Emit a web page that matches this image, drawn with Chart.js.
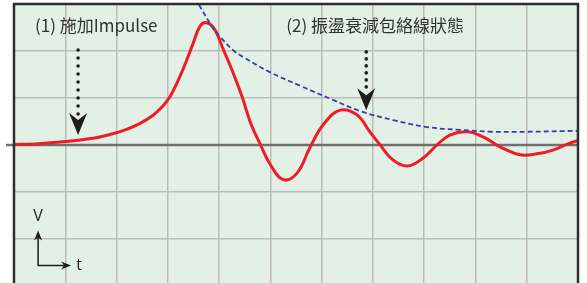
<!DOCTYPE html>
<html>
<head>
<meta charset="utf-8">
<script src="https://cdn.jsdelivr.net/npm/chart.js@4.4.1/dist/chart.umd.min.js"></script>
<style>
  html, body { margin: 0; padding: 0; background: #ffffff; overflow: hidden; }
  canvas { display: block; }
</style>
</head>
<body>
<canvas id="wave" width="587" height="283"></canvas>
<script>
// 紅線：脈衝響應 (時間格, 電壓格)
var respT = [0, 0.41, 0.90, 1.54, 1.87, 2.17, 2.46, 2.70, 2.88, 3.05, 3.30, 3.49, 3.63, 3.76, 3.92, 4.06, 4.25,
    4.45, 4.62, 4.80, 4.99, 5.25, 5.52, 5.77, 6.03, 6.36, 6.69, 6.94, 7.14, 7.39, 7.67, 7.98, 8.25,
    8.50, 8.84, 9.15, 9.48, 9.87, 10.20, 10.51, 10.84, 11.00];
var respV = [0.01, 0.02, 0.06, 0.14, 0.22, 0.32, 0.46, 0.62, 0.80, 1.04, 1.62, 2.15, 2.53, 2.60, 2.45, 2.09, 1.60,
    1.02, 0.45, 0.02, -0.40, -0.74, -0.60, -0.06, 0.43, 0.74, 0.64, 0.28, 0.00, -0.32, -0.45, -0.28, 0.00,
    0.21, 0.28, 0.17, -0.04, -0.21, -0.19, -0.11, 0.04, 0.09];

// 藍虛線：衰減包絡線
var envT = [3.53, 3.61, 3.88, 4.02, 4.27, 4.47, 4.99, 5.58, 6.22, 6.75, 7.39, 8.06, 8.70, 9.34, 10.01, 11.00];
var envV = [3.13, 2.98, 2.49, 2.30, 2.02, 1.87, 1.55, 1.26, 0.96, 0.72, 0.53, 0.38, 0.32, 0.28, 0.28, 0.30];

var xTicks = [0, 11];     // 11 格
var yTicks = [-2.94, 3];  // 下緣被切掉

var label1 = '(1) 施加Impulse';
var label2 = '(2) 振盪衰減包絡線狀態';

function pts(xs, ys) {
    return xs.map(function(x, i) { return { x: x, y: ys[i] }; });
}

function dotArrow(ctx, x, y0, y1, gap) {
    ctx.fillStyle = '#1e1e1e';
    for (var y = y0; y <= y1 - 20; y += gap) {
        ctx.beginPath();
        ctx.arc(x, y, 1.8, 0, Math.PI * 2);
        ctx.fill();
    }
    // 箭頭
    ctx.beginPath();
    ctx.moveTo(x, y1);
    ctx.lineTo(x - 9, y1 - 22);
    ctx.lineTo(x, y1 - 15);
    ctx.lineTo(x + 9, y1 - 22);
    ctx.closePath();
    ctx.fill();
}

var scopePlugin = {
    id: 'scope',
    beforeDraw: function(chart) {
        var ctx = chart.ctx, a = chart.chartArea;
        ctx.save();
        ctx.fillStyle = '#e2f0e6';
        ctx.fillRect(a.left, a.top, a.right - a.left, a.bottom - a.top);
        ctx.restore();
    },
    beforeDatasetsDraw: function(chart) {
        var ctx = chart.ctx, a = chart.chartArea;
        var y0 = chart.scales.y.getPixelForValue(0);
        ctx.save();
        ctx.strokeStyle = '#6f6f6f';
        ctx.lineWidth = 2.5;
        ctx.beginPath();
        ctx.moveTo(a.left - 8, y0);
        ctx.lineTo(a.right, y0);
        ctx.stroke();
        ctx.restore();
    },
    afterDraw: function(chart) {
        var ctx = chart.ctx, a = chart.chartArea;
        var sx = chart.scales.x, sy = chart.scales.y;
        ctx.save();
        // 外框
        ctx.strokeStyle = '#2e2e2e';
        ctx.lineWidth = 2.5;
        ctx.beginPath();
        ctx.moveTo(a.left, a.bottom + 2);
        ctx.lineTo(a.left, a.top);
        ctx.lineTo(a.right, a.top);
        ctx.lineTo(a.right, a.bottom + 2);
        ctx.stroke();

        // 標註文字
        ctx.fillStyle = '#333333';
        ctx.font = '17px "Noto Sans CJK TC"';
        ctx.textBaseline = 'middle';
        ctx.textAlign = 'left';
        ctx.fillText(label1, sx.getPixelForValue(0.41), sy.getPixelForValue(2.55));
        ctx.fillText(label2, sx.getPixelForValue(5.31), sy.getPixelForValue(2.55));

        // 點狀箭頭
        dotArrow(ctx, sx.getPixelForValue(1.25), sy.getPixelForValue(2.02), sy.getPixelForValue(0.21), 8);
        dotArrow(ctx, sx.getPixelForValue(6.87), sy.getPixelForValue(1.98), sy.getPixelForValue(0.74), 7);

        // V / t 座標符號
        var ox = sx.getPixelForValue(0.47), oy = sy.getPixelForValue(-2.57);
        ctx.strokeStyle = '#1e1e1e';
        ctx.fillStyle = '#1e1e1e';
        ctx.lineWidth = 1.5;
        ctx.beginPath();
        ctx.moveTo(ox, oy - 30);
        ctx.lineTo(ox, oy);
        ctx.lineTo(ox + 28, oy);
        ctx.stroke();
        ctx.beginPath();
        ctx.moveTo(ox, oy - 35);
        ctx.lineTo(ox - 4, oy - 25);
        ctx.lineTo(ox, oy - 28);
        ctx.lineTo(ox + 4, oy - 25);
        ctx.closePath();
        ctx.fill();
        ctx.beginPath();
        ctx.moveTo(ox + 33, oy);
        ctx.lineTo(ox + 23, oy - 4);
        ctx.lineTo(ox + 26, oy);
        ctx.lineTo(ox + 23, oy + 4);
        ctx.closePath();
        ctx.fill();
        ctx.font = '16px "Open Sans"';
        ctx.textAlign = 'center';
        ctx.fillText('V', ox, oy - 49);
        ctx.fillText('t', ox + 41, oy);
        ctx.restore();
    }
};

const ctx = document.getElementById('wave');
const waveChart = new Chart(ctx, {
    type: 'line',
    data: {
        datasets: [{
            label: 'envelope',
            data: pts(envT, envV),
            borderColor: '#3b3fa6',
            borderWidth: 1.8,
            borderDash: [5, 3],
            pointRadius: 0,
            tension: 0.4,
            fill: false
        }, {
            label: 'response',
            data: pts(respT, respV),
            borderColor: '#ee1c25',
            borderWidth: 3,
            pointRadius: 0,
            tension: 0.4,
            fill: false
        }]
    },
    options: {
        responsive: false,
        animation: false,
        layout: { padding: { left: 14, top: 4, right: 9, bottom: 0 } },
        plugins: {
            legend: { display: false },
            tooltip: { enabled: false }
        },
        scales: {
            x: {
                type: 'linear',
                min: xTicks[0],
                max: xTicks[1],
                border: { display: false },
                grid: { color: '#bcbcbc', lineWidth: 1.5, drawTicks: false },
                ticks: { display: false, stepSize: 1 }
            },
            y: {
                min: yTicks[0],
                max: yTicks[1],
                border: { display: false },
                grid: { color: '#bcbcbc', lineWidth: 1.5, drawTicks: false },
                ticks: { display: false, stepSize: 1, includeBounds: false }
            }
        }
    },
    plugins: [scopePlugin]
});
</script>
</body>
</html>
